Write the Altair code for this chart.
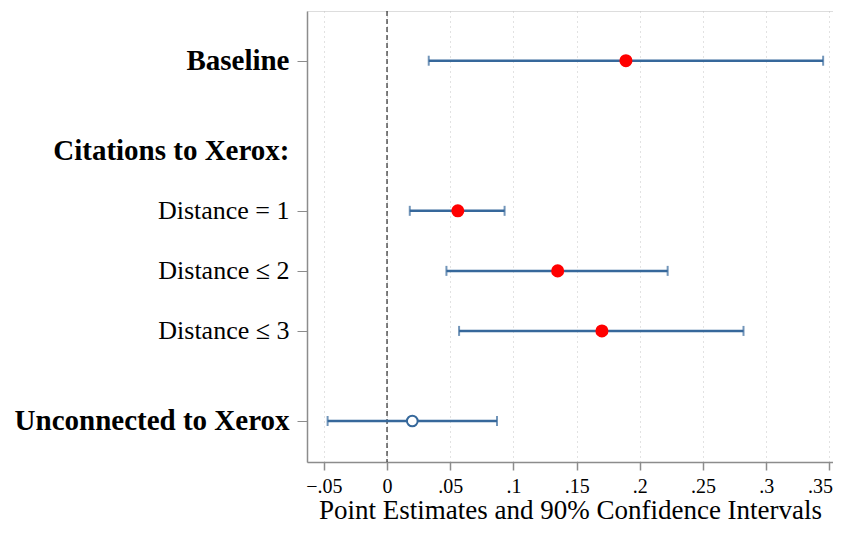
import altair as alt
import pandas as pd

# ---- data ----
labels = ["Baseline", "Distance = 1", "Distance ≤ 2", "Distance ≤ 3", "Unconnected to Xerox"]
row_pos = [0, 2.5, 3.5, 4.5, 6]
estimates = [0.189, 0.056, 0.135, 0.170, 0.020]
ci_low = [0.033, 0.018, 0.047, 0.057, -0.047]
ci_high = [0.345, 0.093, 0.222, 0.282, 0.087]
significant = [True, True, True, True, False]

header_label = "Citations to Xerox:"
header_pos = 1.5
bold_rows = [0, 1.5, 6]

x_ticks = [-0.05, 0, 0.05, 0.1, 0.15, 0.2, 0.25, 0.3, 0.35]
ref_line = [0]

df = pd.DataFrame({
    "label": labels, "pos": row_pos, "est": estimates,
    "lo": ci_low, "hi": ci_high, "sig": significant,
})
ref_df = pd.DataFrame({"x": ref_line})

FONT = "Liberation Serif"
BLUE = "#36689b"
AXIS_GRAY = "#8c8c8c"

axis_positions = row_pos[:1] + [header_pos] + row_pos[1:]
label_map = {p: l for p, l in zip(row_pos, labels)}
label_map[header_pos] = header_label
label_expr = " : ".join(
    f"datum.value == {p} ? '{l}'" for p, l in label_map.items()
) + " : ''"
bold_test = " || ".join(f"datum.value == {b}" for b in bold_rows)

x_scale = alt.Scale(domain=[-0.0633, 0.3528], nice=False, zero=False)
y_scale = alt.Scale(domain=[-0.828, 6.683], reverse=True, nice=False, zero=False)

x_axis = alt.Axis(
    values=x_ticks,
    labelExpr="datum.value == 0 ? '0' : replace(format(datum.value, '~g'), '0.', '.')",
    title="Point Estimates and 90% Confidence Intervals",
    grid=True, gridColor="#c4c4c4", gridDash=[1, 4], gridWidth=1,
    domainColor=AXIS_GRAY, domainWidth=1.5,
    tickColor=AXIS_GRAY, tickWidth=1.5, tickSize=8,
    labelFont=FONT, labelFontSize=20, labelColor="black", labelPadding=6,
    labelFlush=10, labelFlushOffset=3,
    titleFont=FONT, titleFontSize=27, titleFontWeight="normal", titleColor="black",
    titlePadding=1,
)
y_axis = alt.Axis(
    values=axis_positions,
    labelExpr=label_expr,
    title=None, grid=False,
    domainColor=AXIS_GRAY, domainWidth=1.5,
    tickColor=AXIS_GRAY, tickWidth=1, tickSize=10,
    tickOpacity={"condition": {"test": f"datum.value == {header_pos}", "value": 0}, "value": 1},
    labelFont=FONT, labelColor="black", labelPadding=8,
    labelFontSize={"condition": {"test": bold_test, "value": 29}, "value": 26},
    labelFontWeight={"condition": {"test": bold_test, "value": "bold"}, "value": "normal"},
    labelBound=False, labelOverlap=False, labelLimit=600,
)

base = alt.Chart(df)

bars = base.mark_rule(color=BLUE, strokeWidth=2.5).encode(
    x=alt.X("lo:Q", scale=x_scale, axis=x_axis),
    x2="hi:Q",
    y=alt.Y("pos:Q", scale=y_scale, axis=y_axis),
)
cap_lo = base.mark_tick(orient="vertical", color=BLUE, size=10, thickness=2).encode(
    x=alt.X("lo:Q", scale=x_scale), y=alt.Y("pos:Q", scale=y_scale)
)
cap_hi = base.mark_tick(orient="vertical", color=BLUE, size=10, thickness=2).encode(
    x=alt.X("hi:Q", scale=x_scale), y=alt.Y("pos:Q", scale=y_scale)
)
zero = alt.Chart(ref_df).mark_rule(color="black", strokeDash=[5, 3], strokeWidth=1).encode(
    x=alt.X("x:Q", scale=x_scale)
)
pts_sig = base.transform_filter("datum.sig").mark_point(
    shape="circle", filled=True, color="#ff0000", size=170, opacity=1
).encode(x=alt.X("est:Q", scale=x_scale), y=alt.Y("pos:Q", scale=y_scale))
pts_ns = base.transform_filter("!datum.sig").mark_point(
    shape="circle", filled=True, fill="white", stroke=BLUE, strokeWidth=2, size=115, opacity=1
).encode(x=alt.X("est:Q", scale=x_scale), y=alt.Y("pos:Q", scale=y_scale))

chart = alt.layer(zero, bars, cap_lo, cap_hi, pts_sig, pts_ns).properties(
    width=526, height=451,
    autosize=alt.AutoSizeParams(type="none"),
    padding={"left": 299, "top": 3, "right": 0, "bottom": 63},
).configure_view(stroke=None).configure(background="white")

chart.save("out.html", embed_options={"renderer": "svg", "actions": False})
